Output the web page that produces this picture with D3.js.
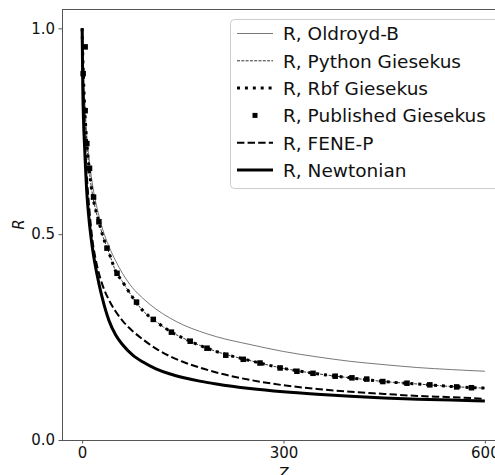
<!DOCTYPE html>
<html>
<head>
<meta charset="utf-8">
<script src="https://cdn.jsdelivr.net/npm/d3@7"></script>
<style>
  body { margin: 0; background: #fff; }
  svg { display: block; }
  text { font-family: "DejaVu Sans", sans-serif; fill: #111; }
</style>
</head>
<body>
<svg id="chart" width="495" height="475"></svg>
<script>
// values
var zGrid = [0, 1, 2, 4, 7, 10, 15, 20, 25, 30, 40, 50, 60, 75, 90, 110, 130, 150, 175, 200, 250, 300, 350, 400, 450, 500, 550, 600];

var oldroydB   = [1, 0.94, 0.89, 0.82, 0.74, 0.69, 0.625, 0.58, 0.545, 0.515, 0.47, 0.435, 0.405, 0.37, 0.345, 0.318, 0.297, 0.28, 0.264, 0.251, 0.232, 0.215, 0.202, 0.191, 0.183, 0.176, 0.171, 0.167];
var giesekus   = [1, 0.93, 0.88, 0.80, 0.72, 0.665, 0.60, 0.56, 0.53, 0.50, 0.455, 0.41, 0.385, 0.347, 0.315, 0.288, 0.265, 0.248, 0.23, 0.215, 0.193, 0.174, 0.161, 0.151, 0.142, 0.136, 0.13, 0.126];
var rbfGiesekus = [1, 0.93, 0.88, 0.80, 0.72, 0.665, 0.60, 0.56, 0.53, 0.50, 0.455, 0.41, 0.385, 0.347, 0.315, 0.288, 0.265, 0.248, 0.23, 0.215, 0.193, 0.174, 0.161, 0.151, 0.142, 0.136, 0.13, 0.126];
var feneP      = [1, 0.88, 0.81, 0.73, 0.64, 0.575, 0.49, 0.44, 0.405, 0.378, 0.34, 0.312, 0.29, 0.265, 0.245, 0.222, 0.204, 0.19, 0.176, 0.164, 0.146, 0.133, 0.124, 0.117, 0.112, 0.107, 0.104, 0.1];
var newtonian  = [1, 0.85, 0.78, 0.70, 0.60, 0.54, 0.47, 0.42, 0.38, 0.345, 0.29, 0.255, 0.232, 0.207, 0.19, 0.173, 0.161, 0.152, 0.143, 0.136, 0.125, 0.117, 0.111, 0.106, 0.102, 0.099, 0.097, 0.095];

var publishedZ = [1.5, 4.5, 4.5, 7, 11, 17, 25, 37, 52, 81, 106, 133, 161, 186, 214, 240, 265, 295, 320, 344, 377, 402, 424, 448, 484, 518, 558, 580];
var publishedR = [0.89, 0.955, 0.80, 0.72, 0.66, 0.59, 0.53, 0.466, 0.405, 0.335, 0.293, 0.262, 0.24, 0.223, 0.206, 0.196, 0.187, 0.175, 0.167, 0.162, 0.155, 0.151, 0.148, 0.142, 0.138, 0.134, 0.129, 0.127];

var xTicks = [0, 300, 600];
var yTicks = [0.0, 0.5, 1.0];

var legendLabels = ["R, Oldroyd-B", "R, Python Giesekus", "R, Rbf Giesekus", "R, Published Giesekus", "R, FENE-P", "R, Newtonian"];

var svg = d3.select("#chart"),
  margin = {top: 9, left: 62},
  width = 443,
  height = 431;

var x = d3.scaleLinear().domain([-30, 630]).range([margin.left, margin.left + width]);
var y = d3.scaleLinear().domain([0, 1.047]).range([margin.top + height, margin.top]);

var series = [
  {values: oldroydB, stroke: "#555", width: 0.8, dash: null},
  {values: giesekus, stroke: "#000", width: 0.8, dash: "3,1.3"},
  {values: rbfGiesekus, stroke: "#000", width: 3, dash: "3,4.9"},
  {values: null},
  {values: feneP, stroke: "#000", width: 2, dash: "7.4,3.2"},
  {values: newtonian, stroke: "#000", width: 3, dash: null}
];

var line = d3.line()
  .x(function(d) { return x(d[0]); })
  .y(function(d) { return y(d[1]); })
  .curve(d3.curveMonotoneX);

var plot = svg.append("g");

series.forEach(function(s, i) {
  if (s.values) {
    plot.append("path")
      .datum(zGrid.map(function(z, j) { return [z, s.values[j]]; }))
      .attr("d", line)
      .attr("fill", "none")
      .attr("stroke", s.stroke)
      .attr("stroke-width", s.width)
      .attr("stroke-dasharray", s.dash);
  } else {
    var ms = 5.5;
    plot.selectAll("rect.pub")
      .data(publishedZ.map(function(z, j) { return [z, publishedR[j]]; }))
      .enter().append("rect")
        .attr("class", "pub")
        .attr("x", function(d) { return x(d[0]) - ms / 2; })
        .attr("y", function(d) { return y(d[1]) - ms / 2; })
        .attr("width", ms)
        .attr("height", ms)
        .attr("fill", "#000");
  }
});

// axes
var gx = svg.append("g")
  .attr("transform", "translate(0," + (margin.top + height) + ")")
  .call(d3.axisBottom(x).tickValues(xTicks).tickFormat(d3.format("d")).tickSize(3.5).tickPadding(3.5));

var gy = svg.append("g")
  .attr("transform", "translate(" + margin.left + ",0)")
  .call(d3.axisLeft(y).tickValues(yTicks).tickFormat(d3.format(".1f")).tickSize(3.5).tickPadding(3.5));

[gx, gy].forEach(function(g) {
  g.select(".domain").attr("stroke", "#555").attr("stroke-width", 1);
  g.selectAll(".tick line").attr("stroke", "#555");
  g.selectAll(".tick text").attr("font-size", 15).attr("font-family", "DejaVu Sans").attr("fill", "#111");
});
gx.select(".domain").attr("d", "M" + margin.left + ",0.5H" + (margin.left + width));
gy.select(".domain").attr("d", "M0.5," + margin.top + "V" + (margin.top + height));

svg.append("line")
  .attr("x1", margin.left).attr("x2", margin.left + width)
  .attr("y1", margin.top + 0.5).attr("y2", margin.top + 0.5)
  .attr("stroke", "#555").attr("stroke-width", 1);

svg.append("text")
  .attr("x", x(300))
  .attr("y", 479)
  .attr("text-anchor", "middle")
  .attr("font-size", 15)
  .attr("font-style", "italic")
  .text("Z");

svg.append("text")
  .attr("transform", "translate(24," + (margin.top + height / 2) + ") rotate(-90)")
  .attr("text-anchor", "middle")
  .attr("font-size", 15)
  .attr("font-style", "italic")
  .text("R");

// legend
var legend = svg.append("g");
legend.append("rect")
  .attr("x", 230.5).attr("y", 19.5)
  .attr("width", 290).attr("height", 169)
  .attr("rx", 4)
  .attr("fill", "#fff").attr("fill-opacity", 0.8)
  .attr("stroke", "#ccc");

var rowY = d3.scaleLinear().domain([0, 5]).range([33.5, 170]);

legendLabels.forEach(function(lbl, i) {
  var s = series[i], cy = rowY(i);
  if (s.values) {
    legend.append("line")
      .attr("x1", 237).attr("x2", 273)
      .attr("y1", cy).attr("y2", cy)
      .attr("stroke", s.stroke)
      .attr("stroke-width", s.width)
      .attr("stroke-dasharray", s.dash);
  } else {
    legend.append("rect")
      .attr("x", 255 - 2.5).attr("y", cy - 2.5)
      .attr("width", 5).attr("height", 5)
      .attr("fill", "#000");
  }
  legend.append("text")
    .attr("x", 283)
    .attr("y", cy + 6.8)
    .attr("font-size", 18.5)
    .text(lbl);
});
</script>
</body>
</html>
